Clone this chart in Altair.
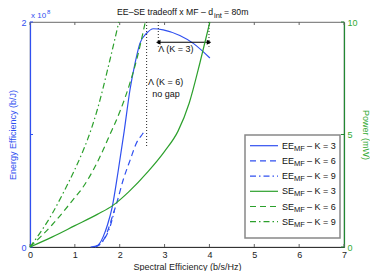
import altair as alt
import pandas as pd

# ---------------- data ----------------
x_ticks = [0, 1, 2, 3, 4, 5, 6, 7]
ee_ticks = [0, 1, 2]          # x 10^8 b/J
p_ticks = [0, 5, 10]          # mW

# Energy efficiency (units of 1e8 b/J)
ee3_se = [1.35, 1.45, 1.55, 1.63, 1.73, 1.83, 1.96, 2.10, 2.23, 2.34, 2.45, 2.60, 2.75, 2.97, 3.34, 3.64, 4.01]
ee3_v = [0.0, 0.005, 0.03, 0.09, 0.20, 0.35, 0.66, 1.03, 1.40, 1.63, 1.81, 1.90, 1.94, 1.93, 1.88, 1.81, 1.68]
ee6_se = [1.45, 1.60, 1.70, 1.78, 1.86, 1.94, 2.08, 2.23, 2.38, 2.50, 2.56]
ee6_v = [0.0, 0.04, 0.11, 0.20, 0.30, 0.40, 0.60, 0.77, 0.93, 1.00, 1.03]
ee9_se = [1.45, 1.60, 1.70, 1.80, 1.88]
ee9_v = [0.0, 0.04, 0.10, 0.20, 0.32]

# Power (mW)
p3_se = [0, 0.5, 1.0, 1.5, 1.85, 2.2, 2.64, 3.0, 3.3, 3.55, 3.79, 4.01]
p3_v = [0, 0.45, 0.95, 1.45, 1.85, 2.45, 3.37, 4.25, 5.15, 6.4, 8.2, 10]
p6_se = [0, 0.5, 1.0, 1.16, 1.41, 1.63, 1.76, 2.0, 2.23, 2.4, 2.57]
p6_v = [0, 1.0, 2.2, 2.6, 3.42, 4.31, 4.9, 6.0, 7.3, 8.5, 10]
p9_se = [0, 0.5, 0.74, 1.0, 1.19, 1.28, 1.5, 1.78, 1.98]
p9_v = [0, 1.5, 2.4, 3.45, 4.31, 4.76, 6.1, 8.3, 10]

# annotations
gap3_x = [2.86, 3.99]
gap3_y = 1.82
gap6_x = 2.60
gap6_bottom = 0.88
gap3_bottom = 1.78

legend_prefix = ["EE", "EE", "EE", "SE", "SE", "SE"]
legend_sub = "MF"
legend_k = ["– K = 3", "– K = 6", "– K = 9", "– K = 3", "– K = 6", "– K = 9"]

# ---------------- styles ----------------
BLUE = "#3050f0"
GREEN = "#2ca02c"
GREEN_AX = "#228833"
GREEN_TXT = "#33aa33"
FONT = "Liberation Sans"
W, H = 314, 225
DASH = [6, 4]
DASHDOT = [6, 3, 1.5, 3]
dashes = [None, DASH, DASHDOT, None, DASH, DASHDOT]
colors = [BLUE, BLUE, BLUE, GREEN, GREEN, GREEN]

XT = "Spectral Efficiency (b/s/Hz)"
EET = "Energy Efficiency (b/J)"
PT = "Power (mW)"

xscale = alt.Scale(domain=[0, 7], nice=False, zero=False)
eescale = alt.Scale(domain=[0, 2], nice=False)
pscale = alt.Scale(domain=[0, 10], nice=False)
dummy = pd.DataFrame({"a": [0]})

x_axis = alt.Axis(values=x_ticks, ticks=False, domainColor="#333", labelFontSize=9, labelFont=FONT,
                  labelColor="#222", labelPadding=3, labelFlush=False, grid=False, format="d",
                  title=XT, titleFontSize=9, titleFont=FONT,
                  titleFontWeight="normal", titleColor="#222", titlePadding=3)
ee_axis = alt.Axis(values=ee_ticks, ticks=False, domainColor=BLUE, domainWidth=1.2, labelColor=BLUE,
                   labelFontSize=9, labelFont=FONT, labelPadding=4, grid=False, format="d",
                   title=EET, titleColor=BLUE, titleFontWeight="normal",
                   titleFontSize=9, titleFont=FONT, titlePadding=3)
p_axis = alt.Axis(orient="right", values=p_ticks, ticks=False, domainColor=GREEN_AX, domainWidth=1.2,
                  labelColor=GREEN_TXT, labelFontSize=9, labelFont=FONT, labelPadding=3, grid=False,
                  format="d", title=PT, titleColor=GREEN_TXT, titleFontWeight="normal",
                  titleFontSize=9, titleFont=FONT, titlePadding=3)


def X(field):
    return alt.X(field, scale=xscale, axis=x_axis, title=XT)


def YE(field):
    return alt.Y(field, scale=eescale, axis=ee_axis, title=EET)


def YP(field):
    return alt.Y(field, scale=pscale, axis=p_axis, title=PT)


def line(se, v, color, dash, yenc):
    df = pd.DataFrame({"se": se, "v": v})
    kw = dict(color=color, strokeWidth=1.2, interpolate="monotone")
    if dash:
        kw["strokeDash"] = dash
    return alt.Chart(df).mark_line(**kw).encode(x=X("se:Q"), y=yenc("v:Q"))


def txt(text, x, y, size=9, color="#111", align="left", baseline="middle"):
    return alt.Chart(dummy).mark_text(text=text, font=FONT, fontSize=size, color=color,
                                      align=align, baseline=baseline).encode(
        x=alt.value(x), y=alt.value(y))


# ---------------- left (EE) group ----------------
left_layers = [
    line(ee3_se, ee3_v, BLUE, None, YE),
    line(ee6_se, ee6_v, BLUE, DASH, YE),
    line(ee9_se, ee9_v, BLUE, DASHDOT, YE),
]
# inward ticks
xt = pd.DataFrame({"se": x_ticks})
left_layers.append(alt.Chart(xt).mark_rule(color="#666").encode(
    x=X("se:Q"), y=alt.value(H), y2=alt.value(H - 3)))
left_layers.append(alt.Chart(xt).mark_rule(color="#666").encode(
    x=X("se:Q"), y=alt.value(0), y2=alt.value(3)))
left_layers.append(alt.Chart(pd.DataFrame({"v": ee_ticks})).mark_rule(color=BLUE).encode(
    y=YE("v:Q"), x=alt.value(0), x2=alt.value(3)))

# dotted guides
dots = pd.DataFrame({"se": [gap3_x[0], gap3_x[1], gap6_x],
                     "v": [2.0, 2.0, 2.0],
                     "v2": [gap3_bottom, gap3_bottom, gap6_bottom]})
left_layers.append(alt.Chart(dots).mark_rule(color="#222", strokeDash=[1, 2], strokeWidth=1).encode(
    x=X("se:Q"), y=YE("v:Q"), y2="v2:Q"))
# arrow
arr = pd.DataFrame({"se": [gap3_x[0]], "se2": [gap3_x[1]], "v": [gap3_y]})
left_layers.append(alt.Chart(arr).mark_rule(color="black", strokeWidth=1.2).encode(
    x=X("se:Q"), x2="se2:Q", y=YE("v:Q")))
heads = pd.DataFrame({"se": gap3_x, "v": [gap3_y, gap3_y], "s": ["triangle-left", "triangle-right"]})
left_layers.append(alt.Chart(heads).mark_point(filled=True, color="black", size=26, opacity=1).encode(
    x=X("se:Q"), y=YE("v:Q"),
    shape=alt.Shape("s:N", scale=alt.Scale(domain=["triangle-left", "triangle-right"],
                                           range=["triangle-left", "triangle-right"]), legend=None)))
ann = pd.DataFrame({"se": [2.86, 2.63, 3.03], "v": [1.76, 1.47, 1.36],
                    "t": ["Λ (K = 3)", "Λ (K = 6)", "no gap"], "al": ["left", "left", "center"]})
for i in range(3):
    left_layers.append(alt.Chart(ann.iloc[[i]]).mark_text(font=FONT, fontSize=9, color="#111",
                                                          align=ann["al"][i], baseline="middle").encode(
        x=X("se:Q"), y=YE("v:Q"), text="t:N"))

# legend
left_layers.append(alt.Chart(dummy).mark_rect(fill="white", stroke="#888", strokeWidth=1.5).encode(
    x=alt.value(215), x2=alt.value(310), y=alt.value(113), y2=alt.value(216)))
for i in range(6):
    yy = 123.7 + 15.2 * i
    kw = dict(color=colors[i], strokeWidth=1.2)
    if dashes[i]:
        kw["strokeDash"] = dashes[i]
    left_layers.append(alt.Chart(dummy).mark_rule(**kw).encode(
        x=alt.value(220), x2=alt.value(248), y=alt.value(yy)))
    left_layers.append(txt(legend_prefix[i], 252, yy))
    left_layers.append(txt(legend_sub, 264, yy + 3, size=7.5))
    left_layers.append(txt(legend_k[i], 277, yy))

# title and exponent
left_layers.append(txt("EE–SE tradeoff x MF – d", 183, -7.5, size=8.7, align="right", baseline="alphabetic"))
left_layers.append(txt("int", 184, -4.5, size=7.5, baseline="alphabetic"))
left_layers.append(txt(" = 80m", 194, -7.5, size=8.7, baseline="alphabetic"))
left_layers.append(txt("x 10", 1, -4.5, size=8, color=BLUE, baseline="alphabetic"))
left_layers.append(txt("8", 17, -8, size=6, color=BLUE, baseline="alphabetic"))

left = alt.layer(*left_layers)

# ---------------- right (Power) group ----------------
right_layers = [
    line(p3_se, p3_v, GREEN, None, YP),
    line(p6_se, p6_v, GREEN, DASH, YP),
    line(p9_se, p9_v, GREEN, DASHDOT, YP),
    alt.Chart(pd.DataFrame({"v": p_ticks})).mark_rule(color=GREEN_AX).encode(
        y=YP("v:Q"), x=alt.value(W - 3), x2=alt.value(W)),
]
right = alt.layer(*right_layers)

chart = alt.layer(left, right).resolve_scale(y="independent").properties(
    width=W, height=H,
    autosize=alt.AutoSizeParams(type="none"),
    padding={"left": 22, "top": 14, "right": 26, "bottom": 24},
).configure_view(stroke="#888", strokeWidth=1.2)

chart.save("out.html", embed_options={"renderer": "svg", "actions": False})
